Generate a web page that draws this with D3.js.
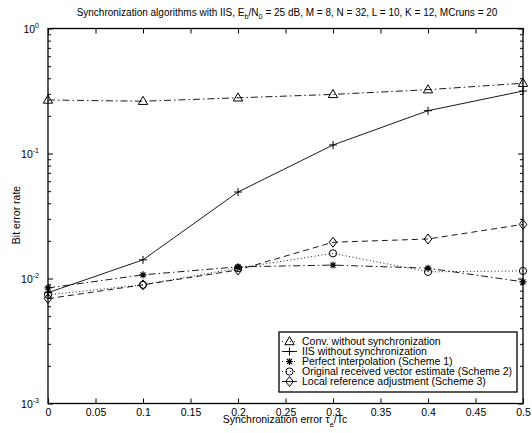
<!DOCTYPE html>
<html>
<head>
<meta charset="utf-8">
<script src="https://cdn.jsdelivr.net/npm/d3@7"></script>
<style>
  body { margin: 0; background: #fff; }
  text { font-family: "Liberation Sans", Arial, sans-serif; fill: #000; }
</style>
</head>
<body>
<div id="main"></div>
<script>
// synchronization error tau_e/Tc
const taus = [0, 0.1, 0.2, 0.3, 0.4, 0.5]

// bit error rates
const convNoSync = [0.268, 0.262, 0.279, 0.297, 0.324, 0.365]
const iisNoSync = [0.0077, 0.0141, 0.0492, 0.117, 0.22, 0.316]
const perfectInterp = [0.0084, 0.0107, 0.0124, 0.0128, 0.0121, 0.0094]
const origVector = [0.0074, 0.0089, 0.0121, 0.0159, 0.0113, 0.0115]
const localRef = [0.0069, 0.0089, 0.0117, 0.0195, 0.0207, 0.0271]

const xTicks = [0, 0.05, 0.1, 0.15, 0.2, 0.25, 0.3, 0.35, 0.4, 0.45, 0.5]
const yDecades = [-3, -2, -1, 0]

const series = [
  { name: 'Conv.  without synchronization', values: convNoSync, marker: 'triangle', dash: '7,3,1.5,3' },
  { name: 'IIS without synchronization', values: iisNoSync, marker: 'plus', dash: null },
  { name: 'Perfect interpolation (Scheme 1)', values: perfectInterp, marker: 'star', dash: '7,3,1.5,3' },
  { name: 'Original received vector estimate (Scheme 2)', values: origVector, marker: 'circle', dash: '1,2.5' },
  { name: 'Local reference adjustment (Scheme 3)', values: localRef, marker: 'diamond', dash: '6,4' }
]

const W = 532, H = 433
const pLeft = 48, pRight = 523, pTop = 28.5, pBottom = 403.5

const svg = d3.select('#main').append('svg').attr('width', W).attr('height', H)

const x = d3.scaleLinear().domain([0, 0.5]).range([pLeft, pRight])
const y = d3.scaleLog().domain([1e-3, 1]).range([pBottom, pTop])

// minor + major ticks for the log axis
const minorVals = []
yDecades.slice(0, -1).forEach(function (e) {
  for (let k = 2; k <= 9; k++) minorVals.push(k * Math.pow(10, e))
})
const majorVals = yDecades.map(e => Math.pow(10, e))

function tickStyle(g) {
  g.select('.domain').remove()
  g.selectAll('line').attr('stroke', '#000').attr('stroke-width', 1)
}

svg.append('g').attr('transform', 'translate(0,' + pBottom + ')')
  .call(d3.axisBottom(x).tickValues(xTicks).tickSizeInner(-5).tickSizeOuter(0).tickPadding(5).tickFormat(d => d === 0 ? '0' : d3.format('')(d)))
  .call(tickStyle)
  .call(g => g.selectAll('text').attr('font-size', 10.5).attr('font-family', '"Liberation Sans", Arial, sans-serif'))
svg.append('g').attr('transform', 'translate(0,' + pTop + ')')
  .call(d3.axisTop(x).tickValues(xTicks).tickSizeInner(-5).tickSizeOuter(0).tickFormat(''))
  .call(tickStyle)

svg.append('g').attr('transform', 'translate(' + pLeft + ',0)')
  .call(d3.axisLeft(y).tickValues(minorVals).tickSizeInner(-3).tickSizeOuter(0).tickFormat(''))
  .call(tickStyle)
svg.append('g').attr('transform', 'translate(' + pLeft + ',0)')
  .call(d3.axisLeft(y).tickValues(majorVals).tickSizeInner(-5).tickSizeOuter(0).tickFormat(''))
  .call(tickStyle)
svg.append('g').attr('transform', 'translate(' + pRight + ',0)')
  .call(d3.axisRight(y).tickValues(minorVals).tickSizeInner(-3).tickSizeOuter(0).tickFormat(''))
  .call(tickStyle)
svg.append('g').attr('transform', 'translate(' + pRight + ',0)')
  .call(d3.axisRight(y).tickValues(majorVals).tickSizeInner(-5).tickSizeOuter(0).tickFormat(''))
  .call(tickStyle)

// y tick labels 10^e
const ylab = svg.append('g').selectAll('text').data(yDecades).join('text')
  .attr('x', pLeft - 9).attr('y', d => y(Math.pow(10, d)) + 4)
  .attr('text-anchor', 'end').attr('font-size', 10.5)
ylab.append('tspan').text('10')
ylab.append('tspan').attr('dy', -5).attr('font-size', 7).text(d => String(d))

// frame
svg.append('rect').attr('x', pLeft).attr('y', pTop).attr('width', pRight - pLeft).attr('height', pBottom - pTop)
  .attr('fill', 'none').attr('stroke', '#000').attr('stroke-width', 1.3)

// markers
function drawMarker(g, type, cx, cy) {
  if (type === 'triangle') {
    g.append('path').attr('d', d3.symbol(d3.symbolTriangle, 38)()).attr('transform', 'translate(' + cx + ',' + (cy + 0.5) + ')')
      .attr('fill', 'none').attr('stroke', '#000').attr('stroke-width', 1)
  } else if (type === 'plus') {
    g.append('path').attr('d', 'M' + (cx - 4) + ',' + cy + 'h8M' + cx + ',' + (cy - 4) + 'v8')
      .attr('stroke', '#000').attr('stroke-width', 1)
  } else if (type === 'star') {
    const r = 3.5
    let d = ''
    for (let a = 0; a < 4; a++) {
      const t = a * Math.PI / 4
      d += 'M' + (cx - r * Math.cos(t)) + ',' + (cy - r * Math.sin(t)) + 'L' + (cx + r * Math.cos(t)) + ',' + (cy + r * Math.sin(t))
    }
    g.append('path').attr('d', d).attr('stroke', '#000').attr('stroke-width', 1.2)
  } else if (type === 'circle') {
    g.append('circle').attr('cx', cx).attr('cy', cy).attr('r', 3.6)
      .attr('fill', 'none').attr('stroke', '#000').attr('stroke-width', 1)
  } else if (type === 'diamond') {
    g.append('path').attr('d', 'M' + cx + ',' + (cy - 5) + 'L' + (cx + 3.8) + ',' + cy + 'L' + cx + ',' + (cy + 5) + 'L' + (cx - 3.8) + ',' + cy + 'Z')
      .attr('fill', 'none').attr('stroke', '#000').attr('stroke-width', 1)
  }
}

const line = d3.line().x((d, i) => x(taus[i])).y(d => y(d))
const plot = svg.append('g')
series.forEach(function (s) {
  plot.append('path').attr('d', line(s.values)).attr('fill', 'none')
    .attr('stroke', '#000').attr('stroke-width', 0.9).attr('stroke-dasharray', s.dash)
  s.values.forEach((v, i) => drawMarker(plot, s.marker, x(taus[i]), y(v)))
})

// legend
const lg = svg.append('g')
lg.append('rect').attr('x', 279).attr('y', 332).attr('width', 238).attr('height', 60)
  .attr('fill', '#fff').attr('stroke', '#000').attr('stroke-width', 1.3)
series.forEach(function (s, i) {
  const ly = 341.5 + i * 10
  lg.append('path').attr('d', 'M282,' + ly + 'H297').attr('stroke', '#000').attr('stroke-width', 0.9)
    .attr('stroke-dasharray', s.dash ? (s.marker === 'diamond' ? null : '1,3') : null)
  drawMarker(lg, s.marker, 289.5, ly)
  lg.append('text').attr('x', 302).attr('y', ly + 3.8).attr('font-size', 10.5).text(s.name)
})

// title
const title = svg.append('text').attr('x', 287).attr('y', 16).attr('text-anchor', 'middle').attr('font-size', 10)
title.append('tspan').text('Synchronization algorithms with IIS, E')
title.append('tspan').attr('dy', 3).attr('font-size', 7.3).text('b')
title.append('tspan').attr('dy', -3).text('/N')
title.append('tspan').attr('dy', 3).attr('font-size', 7.3).text('0')
title.append('tspan').attr('dy', -3).text(' = 25 dB, M = 8, N = 32, L = 10, K = 12, MCruns = 20')

// axis labels
const xl = svg.append('text').attr('x', 285).attr('y', 423).attr('text-anchor', 'middle').attr('font-size', 10.5)
xl.append('tspan').text('Synchronization error \u03c4')
xl.append('tspan').attr('dy', 4).attr('font-size', 7.5).text('e')
xl.append('tspan').attr('dy', -4).text('/Tc')

svg.append('text').attr('transform', 'translate(20,215) rotate(-90)').attr('text-anchor', 'middle')
  .attr('font-size', 10.5).text('Bit error rate')
</script>
</body>
</html>
